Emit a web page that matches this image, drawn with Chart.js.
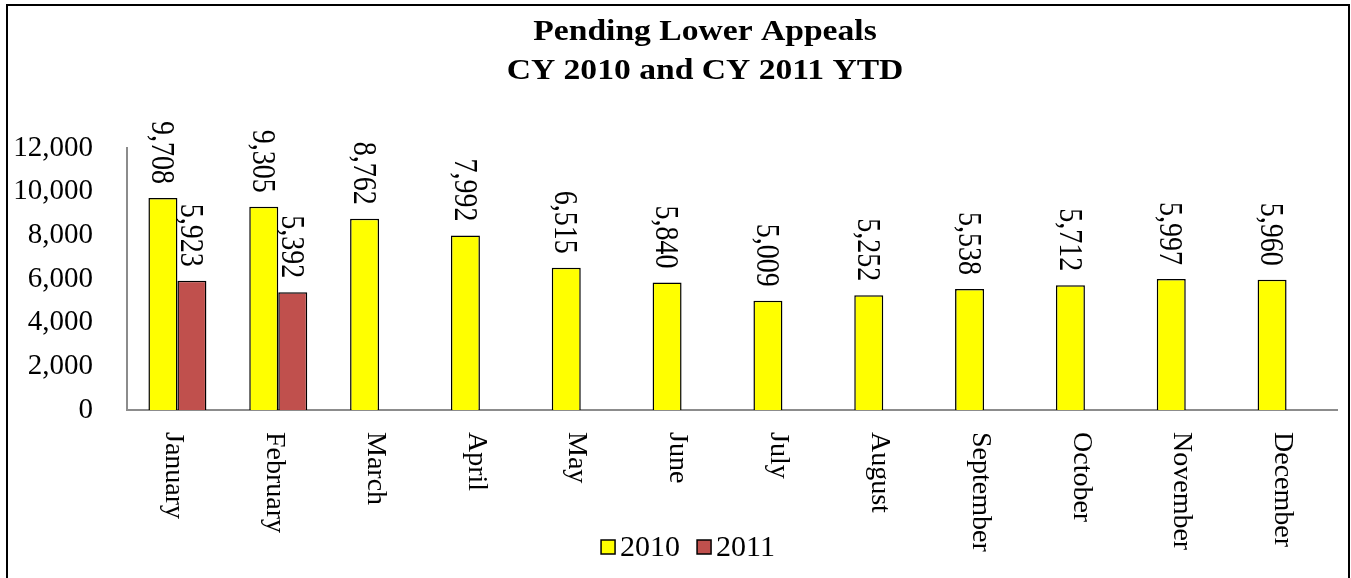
<!DOCTYPE html>
<html>
<head>
<meta charset="utf-8">
<script src="https://cdn.jsdelivr.net/npm/chart.js@4.4.1/dist/chart.umd.min.js"></script>
<style>
  html, body { margin: 0; padding: 0; background: #ffffff; }
  #wrap { position: relative; width: 1351px; height: 578px; }
</style>
</head>
<body>
<div id="wrap"><canvas id="c" width="1351" height="578"></canvas></div>
<script>
const months = ["January","February","March","April","May","June","July","August","September","October","November","December"];
const values2010 = [9708, 9305, 8762, 7992, 6515, 5840, 5009, 5252, 5538, 5712, 5997, 5960];
const values2011 = [5923, 5392, null, null, null, null, null, null, null, null, null, null];
const seriesNames = ["2010", "2011"];
const yTicks = [0, 2000, 4000, 6000, 8000, 10000, 12000];
const titleLines = ["Pending Lower Appeals", "CY 2010 and CY 2011 YTD"];

const SERIF = "'Liberation Serif', 'Times New Roman', serif";
const fmt = v => v.toLocaleString('en-US');

const framePlugin = {
  id: 'frame',
  afterDraw(chart) {
    const ctx = chart.ctx;
    ctx.save();
    ctx.strokeStyle = '#000';
    ctx.lineWidth = 2;
    ctx.beginPath();
    ctx.moveTo(7, 580); ctx.lineTo(7, 5); ctx.lineTo(1349, 5); ctx.lineTo(1349, 580);
    ctx.stroke();
    ctx.restore();
  }
};

const titlePlugin = {
  id: 'stretchTitle',
  afterDraw(chart) {
    const ctx = chart.ctx;
    ctx.save();
    ctx.fillStyle = '#000';
    ctx.font = 'bold 30px ' + SERIF;
    ctx.textAlign = 'center';
    ctx.textBaseline = 'middle';
    const cx = 705, ys = [32.5, 71.5];
    titleLines.forEach((t, i) => {
      ctx.save();
      ctx.translate(cx, ys[i]);
      ctx.scale(1.12, 1);
      ctx.fillText(t, 0, 0);
      ctx.restore();
    });
    ctx.restore();
  }
};

const labelsPlugin = {
  id: 'valueLabels',
  afterDatasetsDraw(chart) {
    const ctx = chart.ctx;
    ctx.save();
    ctx.fillStyle = '#000';
    ctx.font = '28px ' + SERIF;
    ctx.textAlign = 'right';
    ctx.textBaseline = 'middle';
    chart.data.datasets.forEach((ds, di) => {
      const meta = chart.getDatasetMeta(di);
      meta.data.forEach((bar, i) => {
        const v = ds.data[i];
        if (v === null || v === undefined) return;
        ctx.save();
        ctx.translate(bar.x - 2, bar.y - 14);
        ctx.rotate(Math.PI / 2);
        ctx.scale(1, 1.2);
        ctx.fillText(fmt(v), 0, 0);
        ctx.restore();
      });
    });
    ctx.restore();
  }
};

const xLabelPlugin = {
  id: 'xLabels',
  afterDraw(chart) {
    const ctx = chart.ctx;
    const xs = chart.scales.x;
    ctx.save();
    ctx.fillStyle = '#000';
    ctx.font = '28px ' + SERIF;
    ctx.textAlign = 'left';
    ctx.textBaseline = 'middle';
    months.forEach((m, i) => {
      const x = xs.getPixelForValue(i);
      ctx.save();
      ctx.translate(x - 4, chart.chartArea.bottom + 22);
      ctx.rotate(Math.PI / 2);
      ctx.fillText(m, 0, 0);
      ctx.restore();
    });
    ctx.restore();
  }
};

const legendPlugin = {
  id: 'customLegend',
  afterDraw(chart) {
    const ctx = chart.ctx;
    ctx.save();
    ctx.font = '30px ' + SERIF;
    ctx.textBaseline = 'middle';
    ctx.textAlign = 'left';
    const box = 14, gapBoxText = 5, gapItems = 17;
    const widths = chart.data.datasets.map(ds => box + gapBoxText + ctx.measureText(ds.label).width);
    const total = widths.reduce((a, b) => a + b, 0) + gapItems * (widths.length - 1);
    let x = 688 - total / 2;
    const y = 547;
    chart.data.datasets.forEach((ds, i) => {
      ctx.fillStyle = ds.backgroundColor;
      ctx.fillRect(x, y - box / 2, box, box);
      ctx.strokeStyle = '#000';
      ctx.lineWidth = 1.5;
      ctx.strokeRect(x, y - box / 2, box, box);
      ctx.fillStyle = '#000';
      ctx.fillText(ds.label, x + box + gapBoxText, y + 1);
      x += widths[i] + gapItems;
    });
    ctx.restore();
  }
};

new Chart(document.getElementById('c'), {
  type: 'bar',
  data: {
    labels: months,
    datasets: [
      { label: seriesNames[0], data: values2010, backgroundColor: '#FFFF00', borderColor: '#000', borderWidth: 1.5 },
      { label: seriesNames[1], data: values2011, backgroundColor: '#C0504D', borderColor: '#000', borderWidth: 1.5 }
    ]
  },
  options: {
    responsive: false,
    animation: false,
    devicePixelRatio: 1,
    layout: { padding: { left: 10, right: 14, top: 148, bottom: 0 } },
    datasets: { bar: { categoryPercentage: 0.575, barPercentage: 1.0 } },
    plugins: {
      legend: { display: false },
      tooltip: { enabled: false },
      title: { display: false }
    },
    scales: {
      x: {
        grid: { display: false },
        border: { display: true, color: '#8c8c8c', width: 2 },
        ticks: { display: false },
        afterFit(scale) { scale.height = 168; }
      },
      y: {
        min: 0, max: 12000,
        afterBuildTicks(scale) { scale.ticks = yTicks.map(v => ({ value: v })); },
        grid: { display: false },
        border: { display: true, color: '#8c8c8c', width: 2 },
        ticks: {
          color: '#000',
          padding: 26,
          font: { family: SERIF, size: 29 },
          callback: v => fmt(v)
        },
        afterFit(scale) { scale.width = 117; }
      }
    }
  },
  plugins: [labelsPlugin, xLabelPlugin, legendPlugin, titlePlugin, framePlugin]
});
</script>
</body>
</html>
